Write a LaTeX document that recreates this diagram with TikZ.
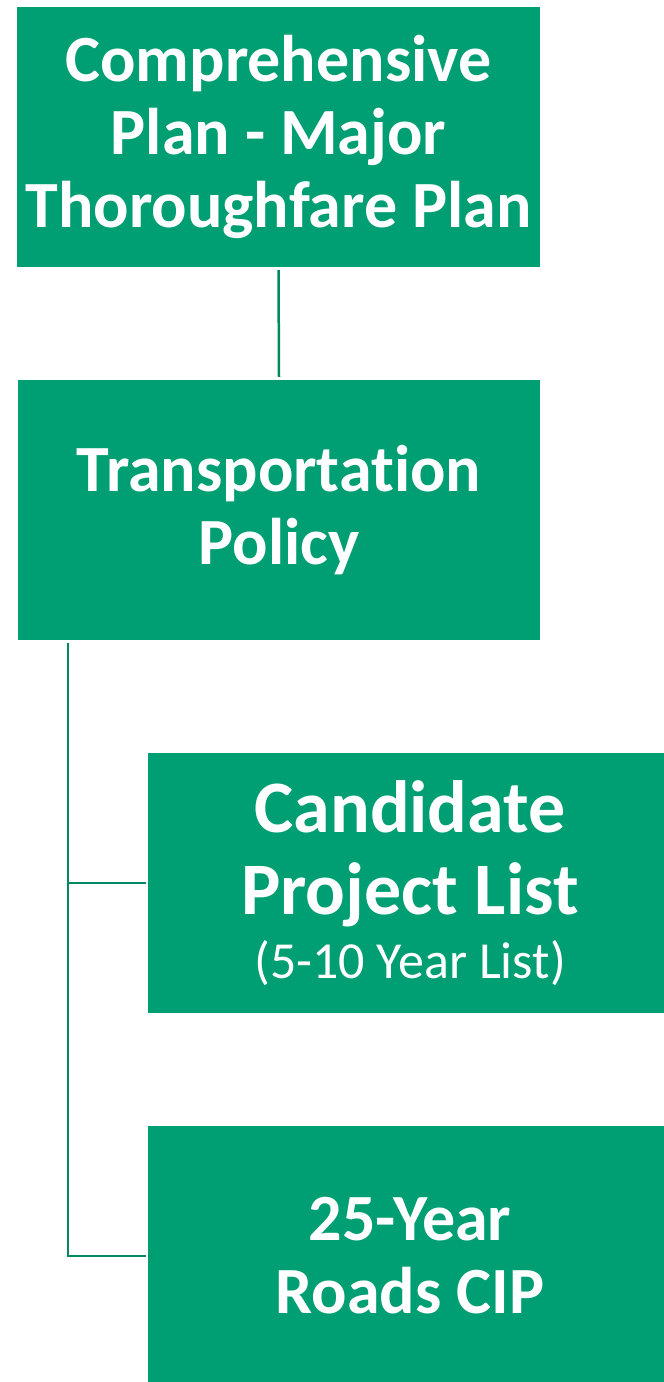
\documentclass[tikz,border=0pt]{standalone}
\usepackage{fontspec}
\setmainfont{Carlito}[Ligatures={NoCommon}]
\definecolor{boxgreen}{RGB}{0,158,115}
\definecolor{linegreen}{RGB}{0,138,98}
\begin{document}
\begin{tikzpicture}[x=1pt,y=-1pt,
  box/.style={fill=boxgreen, draw=none, text=white, align=center,
    minimum height=260pt, inner sep=0pt,
    font=\fontsize{66}{73}\selectfont\bfseries},
  conn/.style={draw=linegreen, line width=2.5pt}]
\useasboundingbox (0,0) rectangle (664,1382);
\clip (0,0) rectangle (664,1382);
\node[box, minimum width=523pt] (b1) at (278.5,137) {Comprehensive\\Plan - Major\\Thoroughfare Plan};
\node[box, minimum width=522pt] (b2) at (279,510) {Transportation\\Policy};
\node[box, minimum width=524pt, font=\fontsize{74}{82}\selectfont\bfseries] (b3) at (410,883)
  {Candidate\\Project List\\[-18pt]{\fontsize{52}{64}\selectfont\mdseries (5-10 Year List)}};
\node[box, minimum width=524pt] (b4) at (410,1256) {25-Year\\Roads CIP};
\draw[conn] ([yshift=-3pt]b1.south) -- ([yshift=3pt]b2.north);
\draw[conn] ([xshift=50pt,yshift=-3pt]b2.south west) |- ([xshift=-2pt]b3.west);
\draw[conn] ([xshift=50pt,yshift=-3pt]b2.south west) |- ([xshift=-2pt]b4.west);
\end{tikzpicture}
\end{document}
